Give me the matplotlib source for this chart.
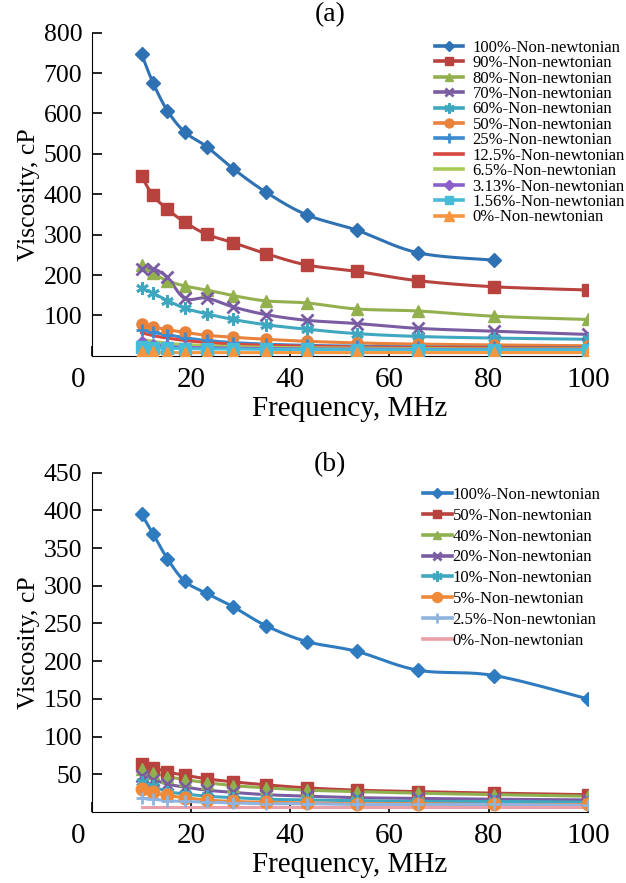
import numpy as np
import matplotlib
matplotlib.use("Agg")
import matplotlib.pyplot as plt
import matplotlib.transforms as mtransforms

plt.rcParams['font.family'] = ['Liberation Serif', 'DejaVu Serif']
plt.rcParams['mathtext.fontset'] = 'stix'

# measurement frequencies, MHz
freq = [10, 12.3, 15.2, 18.7, 23.1, 28.5, 35.1, 43.3, 53.4, 65.8, 81.1, 100]

# (a) viscosity, cP
labels_a = ["100%-Non-newtonian", "90%-Non-newtonian", "80%-Non-newtonian",
            "70%-Non-newtonian", "60%-Non-newtonian", "50%-Non-newtonian",
            "25%-Non-newtonian", "12.5%-Non-newtonian", "6.5%-Non-newtonian",
            "3.13%-Non-newtonian", "1.56%-Non-newtonian", "0%-Non-newtonian"]
a_100 = [747, 676, 607, 554, 518, 463, 405, 349, 311, 255, 237]
a_90 = [444, 397, 363, 331, 301, 280, 253, 225, 209, 186, 171, 163]
a_80 = [226, 205, 186, 173, 163, 149, 136, 131, 116, 111, 98, 90]
a_70 = [216, 216, 194, 142, 143, 121, 102, 88, 80, 68, 61, 53]
a_60 = [168, 155, 137, 118, 104, 90, 77, 66, 55, 48, 44, 41]
a_50 = [80, 72, 65, 58, 51, 46, 41, 36, 32, 29, 27, 25]
a_25 = [64, 58, 52, 45, 38, 33, 29, 26, 24, 22, 21, 20]
a_12 = [57, 50, 44, 38, 33, 29, 26, 24, 22, 21, 20, 19]
a_6 = [41, 36, 31, 28, 25, 23, 21, 20, 19, 18, 17, 17]
a_3 = [35, 28, 24, 21, 20, 19, 18, 17, 17, 16, 16, 15]
a_1 = [22, 20, 19, 18, 17, 17, 16, 16, 15, 15, 15, 15]
a_0 = [9, 9, 8, 8, 8, 8, 8, 8, 8, 8, 8, 8]

# (b) viscosity, cP
labels_b = ["100%-Non-newtonian", "50%-Non-newtonian", "40%-Non-newtonian",
            "20%-Non-newtonian", "10%-Non-newtonian", "5%-Non-newtonian",
            "2.5%-Non-newtonian", "0%-Non-newtonian"]
b_100 = [395, 369, 336, 306, 290, 272, 247, 226, 213, 188, 181, 150]
b_50 = [64, 59, 53, 49, 44, 40, 36, 32, 29, 27, 25, 23]
b_40 = [57, 52, 47, 43, 39, 35, 32, 29, 27, 25, 23, 21]
b_20 = [48, 43, 37, 33, 29, 26, 23, 21, 19, 18, 17, 16]
b_10 = [40, 34, 27, 24, 21, 19, 17, 16, 15, 14, 14, 13]
b_5 = [30, 26, 22, 19, 16, 14, 13, 12, 11, 11, 10, 10]
b_2 = [18, 17, 15, 14, 13, 12, 11, 11, 10, 10, 10, 9]
b_0 = [7, 7, 7, 7, 7, 7, 7, 7, 7, 7, 7, 7]

asterisk = (6, 2, 0)

style_a = [
    ("#2f72b4", "D", 7), ("#b8423d", "s", 8), ("#93b04f", "^", 8),
    ("#7a5ca3", "x", 8), ("#3fa8c0", asterisk, 9), ("#e9823a", "o", 8),
    ("#3c8ad0", "+", 9), ("#d9483f", None, 0), ("#a9c957", None, 0),
    ("#8a5fc9", "D", 6), ("#46bcd8", "s", 8), ("#f7963f", "^", 9),
]
style_b = [
    ("#2f7bbf", "D", 7), ("#b8423d", "s", 8), ("#8fb04f", "^", 8),
    ("#7a5ca3", "x", 8), ("#3fa8c0", asterisk, 9), ("#ef8a3a", "o", 9),
    ("#8fb4e0", "+", 9), ("#e9a0a8", None, 0),
]


def smooth(x, y, n=20):
    # Catmull-Rom curve through the points, like a spreadsheet smoothed line
    x = np.asarray(x, float)
    y = np.asarray(y, float)
    px = np.concatenate([[x[0]], x, [x[-1]]])
    py = np.concatenate([[y[0]], y, [y[-1]]])
    t = np.linspace(0, 1, n)[:, None]
    xs, ys = [], []
    for i in range(1, len(px) - 2):
        for p, out in ((px, xs), (py, ys)):
            p0, p1, p2, p3 = p[i - 1], p[i], p[i + 1], p[i + 2]
            seg = 0.5 * ((2 * p1) + (-p0 + p2) * t + (2 * p0 - 5 * p1 + 4 * p2 - p3) * t ** 2
                         + (-p0 + 3 * p1 - 3 * p2 + p3) * t ** 3)
            out.append(seg.ravel())
    return np.concatenate(xs), np.concatenate(ys)


def draw_panel(ax, series, labels, styles):
    handles = []
    for vals, lab, (col, mk, ms) in zip(series, labels, styles):
        xv = freq[:len(vals)]
        sx, sy = smooth(xv, vals)
        ax.plot(sx, sy, color=col, lw=2.2, zorder=2)
        mew = 2 if mk in ("x", "+", asterisk) else 1
        ax.plot(xv, vals, ls="none", marker=mk, ms=ms, color=col, mew=mew, zorder=3)
        h, = ax.plot([], [], color=col, lw=2.6, marker=mk, ms=ms * 0.8, mew=mew, label=lab)
        handles.append(h)
    ax.spines["top"].set_visible(False)
    ax.spines["right"].set_visible(False)
    ax.set_xlim(0, 100)
    ax.set_xticks([0, 20, 40, 60, 80, 100])
    ax.tick_params(direction="in", length=7, width=1.2)
    ax.tick_params(axis="y", labelsize=18.5, pad=7)
    ax.tick_params(axis="x", labelsize=21, pad=8)
    ax.set_xlabel("Frequency, MHz", fontsize=21, labelpad=2)
    ax.xaxis.label.set_x(0.52)
    ax.set_ylabel("Viscosity, cP", fontsize=18.5, labelpad=3)
    # shift the origin label off the y axis
    lbl = ax.get_xticklabels()[0]
    lbl.set_transform(lbl.get_transform() + mtransforms.ScaledTranslation(-0.14, 0, ax.figure.dpi_scale_trans))
    return handles


fig = plt.figure(figsize=(6.26, 8.83), dpi=100)

ax1 = fig.add_axes([0.147, 0.597, 0.792, 0.366])
h1 = draw_panel(ax1, [a_100, a_90, a_80, a_70, a_60, a_50, a_25, a_12, a_6, a_3, a_1, a_0],
                labels_a, style_a)
ax1.set_ylim(0, 800)
ax1.set_yticks([100, 200, 300, 400, 500, 600, 700, 800])
fig.text(330 / 626, 1 - 15 / 883, "(a)", fontsize=20, ha="center", va="center")
ax1.legend(handles=h1, loc="upper left", bbox_to_anchor=(0.692, 0.978), frameon=False,
           fontsize=12, labelspacing=-0.035, handlelength=1.65, handletextpad=0.6,
           borderaxespad=0, borderpad=0)

ax2 = fig.add_axes([0.147, 0.0804, 0.792, 0.3843])
h2 = draw_panel(ax2, [b_100, b_50, b_40, b_20, b_10, b_5, b_2, b_0], labels_b, style_b)
ax2.set_ylim(0, 450)
ax2.set_yticks([50, 100, 150, 200, 250, 300, 350, 400, 450])
fig.text(330 / 626, 1 - 465 / 883, "(b)", fontsize=20, ha="center", va="center")
ax2.legend(handles=h2, loc="upper left", bbox_to_anchor=(0.667, 0.958), frameon=False,
           fontsize=12, labelspacing=0.29, handlelength=1.75, handletextpad=0.05,
           borderaxespad=0, borderpad=0)

fig.savefig("out.png", dpi=100)
